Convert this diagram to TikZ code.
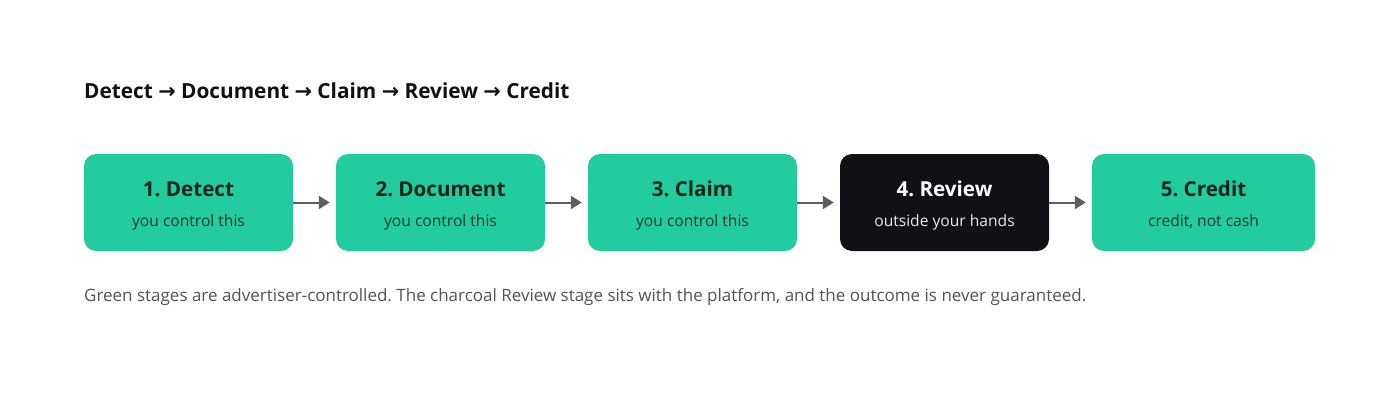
\documentclass[tikz,border=0pt]{standalone}
\usepackage{fontspec}
\setmainfont{Open Sans}
\newfontfamily\arrowfont{DejaVu Sans}
\usetikzlibrary{arrows.meta}
\frenchspacing
\definecolor{stagegreen}{HTML}{22CC9E}
\definecolor{charcoal}{HTML}{0F1117}
\definecolor{greentext}{HTML}{0B241C}
\definecolor{greensub}{HTML}{123A2E}
\definecolor{captiongray}{HTML}{505459}
\definecolor{arrowgray}{HTML}{5E5E5E}
\tikzset{
  stagebox/.style={rounded corners=12pt, minimum width=209pt, minimum height=97pt, inner sep=0pt, draw=none},
  greenstage/.style={stagebox, fill=stagegreen},
  darkstage/.style={stagebox, fill=charcoal},
  stagetitle/.style={anchor=base, inner sep=0pt, font=\fontsize{20.6}{24}\selectfont\bfseries},
  stagesub/.style={anchor=base, inner sep=0pt, font=\fontsize{15.6}{18}\selectfont},
  flow/.style={draw=arrowgray, line width=2pt, -{Triangle[length=11pt,width=13pt]}, shorten >=6pt}
}
\begin{document}
\begin{tikzpicture}[x=1pt,y=-1pt]
\useasboundingbox[fill=white] (0,0) rectangle (1400,420);
\node[anchor=base west, inner sep=0pt, text=charcoal, font=\fontsize{20.8}{24}\selectfont\bfseries] (heading) at (84,98)
  {Detect {\arrowfont→} Document {\arrowfont→} Claim {\arrowfont→} Review {\arrowfont→} Credit};

\node[greenstage] (s1) at (188.5,202.5) {};
\node[greenstage] (s2) at (440.5,202.5) {};
\node[greenstage] (s3) at (692.5,202.5) {};
\node[darkstage]  (s4) at (944.5,202.5) {};
\node[greenstage, minimum width=223pt] (s5) at (1203.5,202.5) {};

\node[stagetitle, text=greentext] (t1) at (188.5,196.5) {1. Detect};
\node[stagesub, text=greensub] (u1) at (188.5,226.5) {you control this};
\node[stagetitle, text=greentext] (t2) at (440.5,196.5) {2. Document};
\node[stagesub, text=greensub] (u2) at (440.5,226.5) {you control this};
\node[stagetitle, text=greentext] (t3) at (692.5,196.5) {3. Claim};
\node[stagesub, text=greensub] (u3) at (692.5,226.5) {you control this};
\node[stagetitle, text=white] (t4) at (944.5,196.5) {4. Review};
\node[stagesub, text=white!92!black] (u4) at (944.5,226.5) {outside your hands};
\node[stagetitle, text=greentext] (t5) at (1203.5,196.5) {5. Credit};
\node[stagesub, text=greensub] (u5) at (1203.5,226.5) {credit, not cash};

\draw[flow] (s1.east) -- (s2.west);
\draw[flow] (s2.east) -- (s3.west);
\draw[flow] (s3.east) -- (s4.west);
\draw[flow] (s4.east) -- (s5.west);

\node[anchor=base west, inner sep=0pt, text=captiongray, font=\fontsize{17}{20}\selectfont] (caption) at (84,301)
  {Green stages are advertiser-controlled. The charcoal Review stage sits with the platform, and the outcome is never guaranteed.};
\end{tikzpicture}
\end{document}
